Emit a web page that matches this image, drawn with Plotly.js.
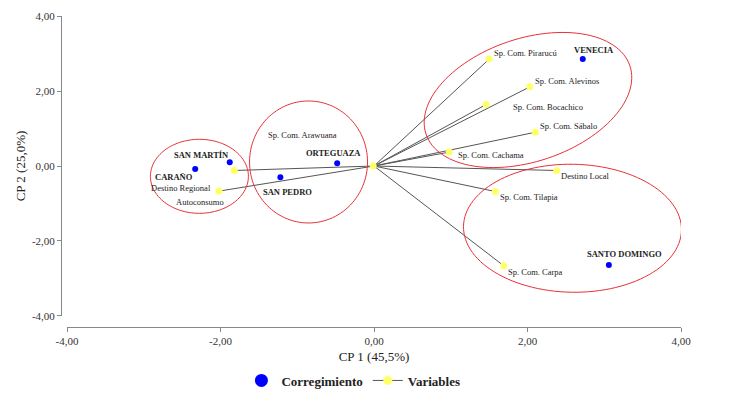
<!DOCTYPE html>
<html>
<head>
<meta charset="utf-8">
<script src="https://cdn.plot.ly/plotly-3.0.1.min.js"></script>
<style>html,body{margin:0;padding:0;background:#fff;}#chart{width:740px;height:394px;}</style>
</head>
<body>
<div id="chart"></div>
<script>
// ---- Data ----
const corrNames = ['VENECIA', 'SANTO DOMINGO', 'SAN MARTÍN', 'CARAÑO', 'ORTEGUAZA', 'SAN PEDRO'];
const corrX = [2.72, 3.06, -1.88, -2.33, -0.48, -1.22];
const corrY = [2.85, -2.64, 0.10, -0.08, 0.07, -0.30];

const varNames = ['Sp. Com. Pirarucú', 'Sp. Com. Alevinos', 'Sp. Com. Bocachico', 'Sp. Com. Sábalo',
  'Sp. Com. Cachama', 'Destino Local', 'Sp. Com. Tilapia', 'Sp. Com. Carpa',
  'Autoconsumo', 'Destino Regional', 'Sp. Com. Arawuana'];
const varX = [1.50, 2.03, 1.46, 2.10, 0.98, 2.38, 1.58, 1.69, -1.82, -2.02, -0.01];
const varY = [2.85, 2.11, 1.64, 0.90, 0.37, -0.12, -0.68, -2.66, -0.12, -0.67, 0.00];

const tickVals = [-4, -2, 0, 2, 4];
const tickText = ['-4,00', '-2,00', '0,00', '2,00', '4,00'];

// ---- Layout helpers (label placement in px, ellipse geometry) ----
const corrLabelPos = [[11, -9], [16, -11], [-28.5, -7], [-21, 8], [-4, -10], [7.5, 15]];
const varLabelPos = [[3, -6, 'left'], [3, -6, 'left'], [25, 2, 'left'], [2.5, -6, 'left'],
  [7, 3, 'left'], [2.5, 5.5, 'left'], [2.5, 6, 'left'], [2.5, 6.5, 'left'],
  [-34.6, 31.3, 'center'], [-6, -3, 'right'], [-107, -31, 'left']];

const W = 740, H = 394, M = {l: 61, r: 59, t: 16, b: 67, autoexpand: false};
const xDom = [0.0097, 1], yDom = [0.0354, 1];
const pw = W - M.l - M.r, ph = H - M.t - M.b;
const sx = pw * (xDom[1] - xDom[0]) / 8;
const sy = ph * (yDom[1] - yDom[0]) / 8;

const ellipses = [
  {cx: -2.275, cy: -0.275, a: 49, b: 37, ang: 0},
  {cx: -0.853, cy: 0.107, a: 59, b: 61, ang: 0},
  {cx: 2.006, cy: 1.76, a: 107.5, b: 61.5, ang: 18.5},
  {cx: 2.586, cy: -1.66, a: 109, b: 64, ang: -1}
];

function ellipsePath(e) {
  const th = e.ang * Math.PI / 180;
  let d = '';
  for (let i = 0; i <= 120; i++) {
    const t = 2 * Math.PI * i / 120;
    const px = e.a * Math.cos(t) * Math.cos(th) - e.b * Math.sin(t) * Math.sin(th);
    const py = e.a * Math.cos(t) * Math.sin(th) + e.b * Math.sin(t) * Math.cos(th);
    const X = e.cx + px / sx, Y = e.cy + py / sy;
    d += (i === 0 ? 'M' : 'L') + X.toFixed(4) + ',' + Y.toFixed(4);
  }
  return d + 'Z';
}

// ---- Traces ----
const lx = [], ly = [];
varX.forEach((x, i) => { lx.push(0, x, null); ly.push(0, varY[i], null); });

const serif = 'Liberation Serif, Times New Roman, serif';
const traces = [
  {x: lx, y: ly, mode: 'lines', line: {color: '#555', width: 1}, hoverinfo: 'skip', showlegend: false},
  {x: varX, y: varY, text: varNames, mode: 'markers', marker: {color: '#ffff66', size: 7}, showlegend: false},
  {x: corrX, y: corrY, text: corrNames, mode: 'markers', marker: {color: '#0000ff', size: 6}, showlegend: false},
  {x: [null], y: [null], mode: 'markers', name: '<b>Corregimiento</b>', marker: {color: '#0000ff', size: 13}},
  {x: [null], y: [null], mode: 'lines+markers', name: '<b>Variables</b>', line: {color: '#555', width: 1}, marker: {color: '#ffff66', size: 9}}
];

const annotations = [];
corrNames.forEach((n, i) => annotations.push({
  x: corrX[i], y: corrY[i], text: '<b>' + n + '</b>', showarrow: false,
  xanchor: 'center', yanchor: 'middle', xshift: corrLabelPos[i][0], yshift: -corrLabelPos[i][1],
  font: {family: serif, size: 8.5, color: '#222'}
}));
varNames.forEach((n, i) => annotations.push({
  x: varX[i], y: varY[i], text: n, showarrow: false,
  xanchor: varLabelPos[i][2], yanchor: 'middle', xshift: varLabelPos[i][0], yshift: -varLabelPos[i][1],
  font: {family: serif, size: 8.5, color: '#222'}
}));

const layout = {
  width: W, height: H, margin: M,
  paper_bgcolor: '#fff', plot_bgcolor: '#fff',
  separators: ',.',
  xaxis: {
    range: [-4, 4], domain: xDom, anchor: 'free', position: 0, automargin: true,
    showgrid: false, zeroline: false, showline: true, linecolor: '#888', linewidth: 1,
    ticks: 'outside', ticklen: 4, tickcolor: '#888',
    tickvals: tickVals, ticktext: tickText,
    tickfont: {family: serif, size: 11, color: '#333'},
    title: {text: 'CP 1 (45,5%)', font: {family: serif, size: 13, color: '#222'}, standoff: 5}
  },
  yaxis: {
    range: [-4, 4], domain: yDom, anchor: 'free', position: 0, automargin: false,
    showgrid: false, zeroline: false, showline: true, linecolor: '#888', linewidth: 1,
    ticks: 'outside', ticklen: 4, tickcolor: '#888',
    tickvals: tickVals, ticktext: tickText,
    tickfont: {family: serif, size: 11, color: '#333'},
    title: {text: 'CP 2 (25,0%)', font: {family: serif, size: 13, color: '#222'}}
  },
  showlegend: true,
  legend: {
    orientation: 'h', x: 0.291, xanchor: 'left', y: -0.172, yanchor: 'middle',
    font: {family: serif, size: 13, color: '#222'}, itemwidth: 30, bgcolor: 'rgba(0,0,0,0)'
  },
  shapes: ellipses.map(e => ({type: 'path', xref: 'x', yref: 'y', path: ellipsePath(e),
    line: {color: '#e8303a', width: 1}, fillcolor: 'rgba(0,0,0,0)'})),
  annotations: annotations
};

Plotly.newPlot('chart', traces, layout, {displayModeBar: false, staticPlot: true});
</script>
</body>
</html>
